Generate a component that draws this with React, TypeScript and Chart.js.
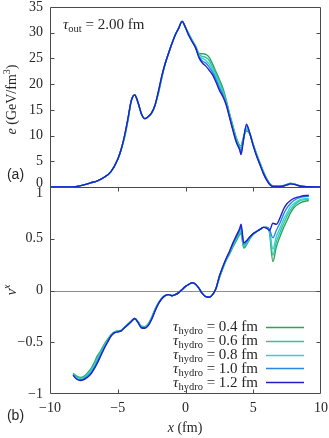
import React, { useEffect, useRef } from 'react';
import { Chart, registerables } from 'chart.js';

Chart.register(...registerables);

// ---------- data ----------
const TAU_HYDRO = [0.4, 0.6, 0.8, 1.0, 1.2];
const COLORS = ['#2aa65c', '#35c49c', '#33d1d6', '#2a86e0', '#1f1fcc'];
const TAU_OUT = '2.00';

const E_X = [-10, -9, -8.5, -8, -7.5, -7, -6.5, -6, -5.5, -5,
  -4.75, -4.5, -4.25, -4, -3.75, -3.5, -3.25, -3, -2.75, -2.5,
  -2.25, -2, -1.75, -1.5, -1.25, -1, -0.75, -0.5, -0.25, 0,
  0.25, 0.5, 0.75, 1, 1.25, 1.5, 1.75, 2, 2.25, 2.5,
  2.75, 3, 3.25, 3.5, 3.75, 4, 4.1, 4.25, 4.5, 4.75,
  5, 5.25, 5.5, 5.75, 6, 6.25, 6.5, 7, 7.5, 7.75,
  8, 8.5, 9, 10];

const E_04 = [0, 0, 0, 0.1, 0.4, 0.8, 1.2, 1.9, 3.0, 5.4,
  7.3, 9.6, 12.9, 16.8, 17.9, 16.4, 14.2, 13.3, 13.7, 14.4,
  15.9, 18.2, 21.2, 24.0, 26.0, 27.9, 29.6, 30.9, 32.2, 31.0,
  29.8, 28.5, 27.4, 26.0, 25.9, 25.8, 25.2, 23.9, 22.4, 20.9,
  19.3, 17.0, 14.3, 11.9, 9.6, 8.1, 8.0, 9.5, 10.9, 10.3,
  8.3, 6.4, 4.7, 3.0, 1.6, 0.6, 0.15, 0.15, 0.5, 0.75,
  0.6, 0.2, 0.05, 0];
const E_06 = [0, 0, 0, 0.1, 0.4, 0.8, 1.2, 1.9, 3.0, 5.4,
  7.3, 9.7, 13.0, 16.8, 17.9, 16.4, 14.2, 13.3, 13.7, 14.4,
  15.9, 18.3, 21.3, 24.0, 26.0, 27.9, 29.6, 30.9, 32.2, 31.0,
  29.7, 28.4, 27.3, 25.8, 25.4, 25.2, 24.6, 23.3, 21.9, 20.4,
  18.8, 16.7, 14.1, 11.6, 9.3, 7.8, 7.6, 9.2, 11.2, 10.3,
  8.2, 6.3, 4.6, 2.9, 1.5, 0.55, 0.13, 0.13, 0.5, 0.7,
  0.6, 0.18, 0.05, 0];
const E_08 = [0, 0, 0, 0.1, 0.4, 0.8, 1.2, 1.9, 3.0, 5.4,
  7.3, 9.8, 13.1, 16.8, 17.9, 16.4, 14.2, 13.3, 13.7, 14.4,
  15.9, 18.4, 21.4, 24.0, 26.0, 27.9, 29.6, 30.9, 32.2, 31.0,
  29.6, 28.35, 27.2, 25.5, 25.0, 24.6, 23.9, 22.8, 21.4, 19.8,
  18.4, 16.5, 13.9, 11.4, 9.1, 7.6, 7.1, 9.0, 11.5, 10.4,
  8.2, 6.2, 4.5, 2.8, 1.45, 0.5, 0.12, 0.12, 0.45, 0.7,
  0.55, 0.17, 0.05, 0];
const E_10 = [0, 0, 0, 0.1, 0.4, 0.8, 1.2, 1.9, 3.0, 5.4,
  7.3, 9.9, 13.2, 16.8, 17.9, 16.4, 14.2, 13.3, 13.7, 14.4,
  15.9, 18.5, 21.5, 24.0, 26.0, 27.9, 29.6, 30.9, 32.2, 31.0,
  29.5, 28.3, 27.1, 25.3, 24.5, 24.1, 23.3, 22.3, 20.9, 19.3,
  18.0, 16.3, 13.7, 11.2, 8.9, 7.4, 6.7, 8.8, 11.9, 10.4,
  8.1, 6.1, 4.4, 2.7, 1.4, 0.45, 0.1, 0.1, 0.45, 0.65,
  0.55, 0.15, 0.05, 0];
const E_12 = [0, 0, 0, 0.1, 0.4, 0.8, 1.2, 1.9, 3.0, 5.4,
  7.3, 10.0, 13.3, 16.8, 17.9, 16.4, 14.2, 13.3, 13.7, 14.4,
  15.9, 18.6, 21.6, 24.0, 26.0, 27.9, 29.6, 30.9, 32.2, 31.0,
  29.4, 28.2, 27.0, 25.1, 24.1, 23.5, 22.7, 21.8, 20.4, 18.8,
  17.6, 16.0, 13.5, 11.0, 8.7, 7.2, 6.3, 8.6, 12.2, 10.4,
  8.0, 6.0, 4.3, 2.6, 1.3, 0.4, 0.1, 0.1, 0.4, 0.6,
  0.5, 0.15, 0.05, 0];

const V_X = [-8.3, -8, -7.75, -7.5, -7.25, -7, -6.75, -6.5, -6.25, -6,
  -5.75, -5.5, -5.25, -5, -4.75, -4.5, -4.25, -4, -3.75, -3.5,
  -3.25, -3, -2.75, -2.5, -2.25, -2, -1.75, -1.5, -1.25, -1,
  -0.75, -0.5, -0.25, 0, 0.25, 0.5, 0.75, 1, 1.25, 1.5,
  1.75, 2, 2.25, 2.5, 2.75, 3, 3.25, 3.5, 3.75, 4,
  4.1, 4.3, 4.5, 4.75, 5, 5.25, 5.5, 5.75, 6, 6.2,
  6.45, 6.7, 7, 7.25, 7.5, 7.75, 8, 8.5, 9.1];

const V_04 = [-0.80, -0.83, -0.84, -0.83, -0.80, -0.76, -0.70, -0.63, -0.58, -0.52,
  -0.47, -0.43, -0.40, -0.39, -0.385, -0.355, -0.325, -0.295, -0.27, -0.30,
  -0.345, -0.35, -0.32, -0.26, -0.18, -0.12, -0.075, -0.05, -0.04, -0.05,
  -0.04, -0.02, 0.01, 0.04, 0.06, 0.075, 0.06, 0.02, -0.03, -0.06,
  -0.065, -0.04, 0.02, 0.12, 0.21, 0.29, 0.35, 0.42, 0.48, 0.54,
  0.55, 0.41, 0.44, 0.50, 0.54, 0.57, 0.59, 0.61, 0.61, 0.56,
  0.28, 0.42, 0.53, 0.61, 0.68, 0.75, 0.80, 0.85, 0.87];
const V_06 = [-0.805, -0.84, -0.85, -0.84, -0.81, -0.77, -0.72, -0.65, -0.59, -0.53,
  -0.48, -0.43, -0.40, -0.395, -0.385, -0.355, -0.325, -0.295, -0.27, -0.305,
  -0.35, -0.355, -0.325, -0.265, -0.185, -0.123, -0.076, -0.05, -0.04, -0.05,
  -0.04, -0.02, 0.01, 0.04, 0.06, 0.075, 0.06, 0.02, -0.03, -0.06,
  -0.065, -0.04, 0.02, 0.125, 0.215, 0.295, 0.36, 0.43, 0.495, 0.555,
  0.57, 0.42, 0.45, 0.505, 0.545, 0.57, 0.59, 0.61, 0.61, 0.57,
  0.34, 0.47, 0.57, 0.65, 0.72, 0.78, 0.82, 0.87, 0.88];
const V_08 = [-0.81, -0.85, -0.86, -0.85, -0.82, -0.785, -0.735, -0.67, -0.605, -0.545,
  -0.49, -0.435, -0.405, -0.395, -0.39, -0.36, -0.33, -0.30, -0.27, -0.305,
  -0.355, -0.36, -0.33, -0.27, -0.19, -0.125, -0.078, -0.05, -0.04, -0.05,
  -0.04, -0.02, 0.01, 0.04, 0.06, 0.075, 0.06, 0.02, -0.03, -0.06,
  -0.065, -0.04, 0.02, 0.13, 0.22, 0.30, 0.365, 0.44, 0.505, 0.57,
  0.59, 0.43, 0.46, 0.51, 0.545, 0.57, 0.59, 0.61, 0.61, 0.58,
  0.40, 0.52, 0.61, 0.69, 0.75, 0.81, 0.84, 0.88, 0.89];
const V_10 = [-0.815, -0.855, -0.865, -0.855, -0.83, -0.80, -0.75, -0.685, -0.62, -0.555,
  -0.495, -0.44, -0.41, -0.40, -0.39, -0.36, -0.33, -0.30, -0.27, -0.31,
  -0.36, -0.36, -0.335, -0.275, -0.195, -0.128, -0.08, -0.05, -0.04, -0.05,
  -0.04, -0.02, 0.01, 0.04, 0.06, 0.075, 0.06, 0.02, -0.03, -0.06,
  -0.065, -0.04, 0.02, 0.135, 0.225, 0.305, 0.37, 0.45, 0.515, 0.585,
  0.615, 0.445, 0.47, 0.515, 0.55, 0.57, 0.59, 0.61, 0.61, 0.59,
  0.51, 0.58, 0.66, 0.74, 0.80, 0.84, 0.87, 0.90, 0.91];
const V_12 = [-0.82, -0.86, -0.87, -0.86, -0.84, -0.81, -0.76, -0.70, -0.63, -0.56,
  -0.50, -0.44, -0.41, -0.40, -0.39, -0.36, -0.33, -0.30, -0.27, -0.31,
  -0.36, -0.365, -0.34, -0.28, -0.20, -0.13, -0.08, -0.05, -0.04, -0.05,
  -0.04, -0.02, 0.01, 0.04, 0.06, 0.075, 0.06, 0.02, -0.03, -0.06,
  -0.065, -0.04, 0.02, 0.14, 0.23, 0.31, 0.38, 0.46, 0.53, 0.60,
  0.64, 0.46, 0.48, 0.52, 0.55, 0.57, 0.59, 0.61, 0.60, 0.58,
  0.65, 0.64, 0.71, 0.79, 0.84, 0.87, 0.89, 0.91, 0.92];

const E_SERIES = [E_04, E_06, E_08, E_10, E_12];
const V_SERIES = [V_04, V_06, V_08, V_10, V_12];

// ---------- styling ----------
const SERIF = "'Liberation Serif', 'DejaVu Serif', serif";
const SANS = "'Liberation Sans', Arial, sans-serif";
const f = (size: number, italic = false) => `${italic ? 'italic ' : ''}${size}px ${SERIF}`;
const TEXT = '#262626';
const AXIS = '#4a4a4a';

const fmt = (v: number) => {
  const s = String(Math.round(v * 100) / 100);
  return s.startsWith('-') ? '\u2212' + s.slice(1) : s;
};

type Seg = { t: string; f: string; dy?: number };
function segsWidth(ctx: CanvasRenderingContext2D, segs: Seg[]) {
  let w = 0;
  for (const s of segs) { ctx.font = s.f; w += ctx.measureText(s.t).width; }
  return w;
}
function drawSegs(ctx: CanvasRenderingContext2D, segs: Seg[], x: number, y: number) {
  let cx = x;
  for (const s of segs) {
    ctx.font = s.f;
    ctx.fillText(s.t, cx, y + (s.dy || 0));
    cx += ctx.measureText(s.t).width;
  }
}

const noPad = (s: any) => {
  s.paddingTop = 0;
  s.paddingBottom = 0;
  s.paddingLeft = 0;
  s.paddingRight = 0;
};

const framePlugin = {
  id: 'frame',
  beforeDatasetsDraw(chart: any) {
    const { ctx, chartArea } = chart;
    const yV = chart.scales.yV;
    ctx.save();
    ctx.strokeStyle = '#8c8c8c';
    ctx.lineWidth = 1;
    const y0 = Math.round(yV.getPixelForValue(0)) + 0.5;
    ctx.beginPath();
    ctx.moveTo(chartArea.left, y0);
    ctx.lineTo(chartArea.right, y0);
    ctx.stroke();
    ctx.restore();
  },
  afterDatasetsDraw(chart: any) {
    const { ctx, chartArea } = chart;
    const xS = chart.scales.x;
    const yE = chart.scales.yE;
    const yV = chart.scales.yV;
    const L = Math.round(chartArea.left) + 0.5;
    const R = Math.round(chartArea.right) - 0.5;
    const T = Math.round(yE.top) + 0.5;
    const M = Math.round(yE.bottom) + 0.5;
    const B = Math.round(yV.bottom) - 0.5;
    const TL = 4;
    ctx.save();
    ctx.strokeStyle = AXIS;
    ctx.lineWidth = 1;
    ctx.beginPath();
    ctx.rect(L, T, R - L, B - T);
    ctx.moveTo(L, M);
    ctx.lineTo(R, M);
    for (const t of xS.ticks) {
      if (t.value <= xS.min || t.value >= xS.max) continue;
      const px = Math.round(xS.getPixelForValue(t.value)) + 0.5;
      ctx.moveTo(px, M); ctx.lineTo(px, M + TL);
      ctx.moveTo(px, B); ctx.lineTo(px, B - TL);
    }
    for (const sc of [yE, yV]) {
      for (const t of sc.ticks) {
        if (t.value <= sc.min || t.value >= sc.max) continue;
        const py = Math.round(sc.getPixelForValue(t.value)) + 0.5;
        ctx.moveTo(L, py); ctx.lineTo(L + TL, py);
        ctx.moveTo(R, py); ctx.lineTo(R - TL, py);
      }
    }
    ctx.stroke();

    ctx.fillStyle = TEXT;
    ctx.textBaseline = 'alphabetic';
    ctx.textAlign = 'left';
    drawSegs(ctx, [
      { t: '\u03C4', f: f(15, true) },
      { t: 'out', f: f(10.5), dy: 3 },
      { t: ' = ' + TAU_OUT + ' fm', f: f(15) },
    ], 63, 29);

    const eSegs: Seg[] = [
      { t: 'e', f: f(14, true) },
      { t: ' (GeV/fm', f: f(14) },
      { t: '3', f: f(10), dy: -6 },
      { t: ')', f: f(14) },
    ];
    ctx.save();
    ctx.translate(16, 99.5);
    ctx.rotate(-Math.PI / 2);
    drawSegs(ctx, eSegs, -segsWidth(ctx, eSegs) / 2, 0);
    ctx.restore();

    const vSegs: Seg[] = [
      { t: 'v', f: f(14, true) },
      { t: 'x', f: f(10, true), dy: -6 },
    ];
    ctx.save();
    ctx.translate(16, 290);
    ctx.rotate(-Math.PI / 2);
    drawSegs(ctx, vSegs, -segsWidth(ctx, vSegs) / 2, 0);
    ctx.restore();

    const xSegs: Seg[] = [
      { t: 'x', f: f(14, true) },
      { t: ' (fm)', f: f(14) },
    ];
    drawSegs(ctx, xSegs, 185 - segsWidth(ctx, xSegs) / 2, 432);

    ctx.font = `14px ${SANS}`;
    ctx.textAlign = 'center';
    ctx.textBaseline = 'middle';
    ctx.fillText('(a)', 15.5, 175);
    ctx.fillText('(b)', 15.5, 416);

    ctx.textAlign = 'left';
    ctx.textBaseline = 'alphabetic';
    for (let i = 0; i < TAU_HYDRO.length; i++) {
      const y = 326.7 + i * 13.9;
      const segs: Seg[] = [
        { t: '\u03C4', f: f(15, true) },
        { t: 'hydro', f: f(10.5), dy: 3 },
        { t: ' = ' + TAU_HYDRO[i].toFixed(1) + ' fm', f: f(15) },
      ];
      drawSegs(ctx, segs, 258 - segsWidth(ctx, segs), y + 4.5);
      ctx.strokeStyle = COLORS[i];
      ctx.lineWidth = 1.5;
      ctx.beginPath();
      ctx.moveTo(266, Math.round(y) + 0.5);
      ctx.lineTo(304, Math.round(y) + 0.5);
      ctx.stroke();
    }
    ctx.restore();
  },
};

export default function App() {
  const ref = useRef<HTMLCanvasElement | null>(null);
  useEffect(() => {
    if (!ref.current) return;
    const datasets: any[] = [];
    TAU_HYDRO.forEach((tau, i) => {
      datasets.push({
        label: `e tau=${tau}`,
        data: E_X.map((x, k) => ({ x, y: E_SERIES[i][k] })),
        xAxisID: 'x',
        yAxisID: 'yE',
        borderColor: COLORS[i],
        borderWidth: 1.4,
        pointRadius: 0,
        fill: false,
        cubicInterpolationMode: 'monotone',
        order: TAU_HYDRO.length - i,
      });
    });
    TAU_HYDRO.forEach((tau, i) => {
      datasets.push({
        label: `v tau=${tau}`,
        data: V_X.map((x, k) => ({ x, y: V_SERIES[i][k] })),
        xAxisID: 'x',
        yAxisID: 'yV',
        borderColor: COLORS[i],
        borderWidth: 1.4,
        pointRadius: 0,
        fill: false,
        cubicInterpolationMode: 'monotone',
        order: TAU_HYDRO.length - i,
      });
    });
    const chart = new Chart(ref.current, {
      type: 'line',
      data: { datasets },
      plugins: [framePlugin],
      options: {
        animation: false,
        responsive: false,
        maintainAspectRatio: false,
        layout: { padding: { top: 7, right: 8, left: 0, bottom: 0 } },
        plugins: { legend: { display: false }, tooltip: { enabled: false } },
        scales: {
          x: {
            type: 'linear',
            position: 'bottom',
            min: -10,
            max: 10,
            grid: { display: false, drawTicks: false },
            border: { display: false },
            ticks: {
              stepSize: 5,
              padding: 6,
              maxRotation: 0,
              autoSkip: false,
              color: TEXT,
              font: { family: SERIF, size: 14 },
              callback: (v: any) => fmt(Number(v)),
            },
            afterFit: (s: any) => { s.height = 44; noPad(s); },
          },
          yE: {
            type: 'linear',
            position: 'left',
            stack: 'panels',
            stackWeight: 180,
            weight: 1,
            min: 0,
            max: 35,
            grid: { display: false, drawTicks: false },
            border: { display: false },
            ticks: {
              stepSize: 5,
              padding: 7,
              autoSkip: false,
              color: TEXT,
              font: { family: SERIF, size: 14, lineHeight: 0.49 },
              callback: (v: any) => (Number(v) === 0 ? ['0', ''] : fmt(Number(v))),
            },
            afterFit: (s: any) => { s.width = 50; noPad(s); },
          },
          yV: {
            type: 'linear',
            position: 'left',
            stack: 'panels',
            stackWeight: 207,
            weight: 0,
            min: -1,
            max: 1,
            grid: { display: false, drawTicks: false },
            border: { display: false },
            ticks: {
              stepSize: 0.5,
              padding: 7,
              autoSkip: false,
              color: TEXT,
              font: { family: SERIF, size: 14, lineHeight: 0.94 },
              callback: (v: any) => (Number(v) === 1 ? ['', '1'] : fmt(Number(v))),
            },
            afterFit: (s: any) => { s.width = 50; noPad(s); },
          },
        },
      } as any,
    });
    return () => chart.destroy();
  }, []);
  return (
    <div style={{ position: 'fixed', left: 0, top: 0, width: 329, height: 438, background: '#fff' }}>
      <canvas ref={ref} width={329} height={438} style={{ width: 329, height: 438, display: 'block' }} />
    </div>
  );
}
